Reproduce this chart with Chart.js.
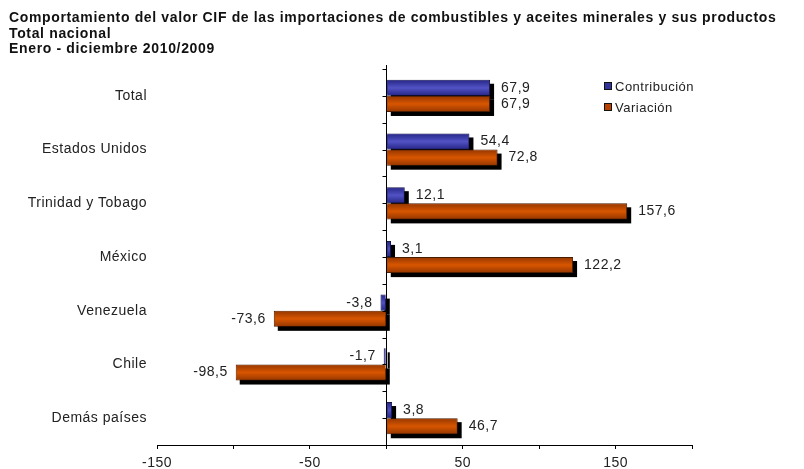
<!DOCTYPE html>
<html>
<head>
<meta charset="utf-8">
<script src="https://cdn.jsdelivr.net/npm/chart.js@4.4.1/dist/chart.umd.min.js"></script>
<style>
    body { margin: 0; background: #fff; }
    #wrap { position: relative; width: 804px; height: 469px; }
    #title {
        position: absolute; left: 9px; top: 10px;
        font: bold 14px "Liberation Sans", Arial, sans-serif;
        letter-spacing: 0.65px;
        line-height: 15.5px; color: #111; white-space: nowrap;
    }
    #legend {
        position: absolute; left: 604px; top: 79px;
        font: 13px "Liberation Sans", Arial, sans-serif; color: #222;
        letter-spacing: 0.5px;
    }
    #legend div { height: 21px; line-height: 16px; }
    #legend span.box {
        display: inline-block; width: 6px; height: 6px;
        border: 1px solid #111; margin-right: 3px; vertical-align: 1px;
    }
</style>
</head>
<body>
<div id="wrap">
    <canvas id="chart" width="804" height="469"></canvas>
    <div id="title">
        Comportamiento del valor CIF de las importaciones de combustibles y aceites minerales y sus productos<br>
        Total nacional<br>
        Enero - diciembre 2010/2009
    </div>
    <div id="legend">
        <div><span class="box" style="background:#33339c"></span>Contribución</div>
        <div><span class="box" style="background:#b84300"></span>Variación</div>
    </div>
</div>
<script>
// Data
const categories = ['Total', 'Estados Unidos', 'Trinidad y Tobago', 'México', 'Venezuela', 'Chile', 'Demás países'];
const contribucion = [67.9, 54.4, 12.1, 3.1, -3.8, -1.7, 3.8];
const variacion = [67.9, 72.8, 157.6, 122.2, -73.6, -98.5, 46.7];
const tickLabels = [-150, -50, 50, 150];

const blue = '#33339c';
const orange = '#b84300';
// edge / centre colours for the shaded bars
const shades = [['#2a2a8e', '#5252c4'], ['#9c3a00', '#d85600']];
const font = '"Liberation Sans", Arial, sans-serif';

function fmt(v) {
    return v.toFixed(1).replace('.', ',');
}

function barRect(bar) {
    const p = bar.getProps(['x', 'y', 'base', 'height'], true);
    return {
        left: Math.min(p.x, p.base),
        right: Math.max(p.x, p.base),
        top: p.y - p.height / 2,
        bottom: p.y + p.height / 2,
        x: p.x,
        y: p.y
    };
}

// Black drop shadows first, then the bars, then the shading and the value labels
const barStyle = {
    id: 'barStyle',
    beforeDraw(chart) {
        chart.ctx.letterSpacing = '0.5px';
    },
    beforeDatasetsDraw(chart) {
        const ctx = chart.ctx;
        ctx.save();
        ctx.fillStyle = '#000';
        chart.data.datasets.forEach((ds, di) => {
            chart.getDatasetMeta(di).data.forEach(bar => {
                const r = barRect(bar);
                ctx.fillRect(r.left + 4, r.top + 4, r.right - r.left, r.bottom - r.top);
            });
        });
        ctx.restore();
    },
    afterDatasetsDraw(chart) {
        const ctx = chart.ctx;
        ctx.save();
        chart.data.datasets.forEach((ds, di) => {
            chart.getDatasetMeta(di).data.forEach((bar, i) => {
                const r = barRect(bar);
                const w = r.right - r.left - 2;
                const h = r.bottom - r.top - 2;
                if (w > 0) {
                    const g = ctx.createLinearGradient(0, r.top + 1, 0, r.top + 1 + h);
                    g.addColorStop(0, shades[di][0]);
                    g.addColorStop(0.5, shades[di][1]);
                    g.addColorStop(1, shades[di][0]);
                    ctx.fillStyle = g;
                    ctx.fillRect(r.left + 1, r.top + 1, w, h);
                }
                const v = ds.data[i];
                ctx.fillStyle = '#222';
                ctx.font = '14px ' + font;
                ctx.textBaseline = 'middle';
                if (v >= 0) {
                    ctx.textAlign = 'left';
                    ctx.fillText(fmt(v), r.x + 11, r.y);
                } else {
                    ctx.textAlign = 'right';
                    ctx.fillText(fmt(v), r.x - 8, r.y);
                }
            });
        });
        // zero line and its small ticks
        const x0 = Math.round(chart.scales.x.getPixelForValue(0)) + 0.5;
        const area = chart.chartArea;
        const step = (area.bottom - area.top) / (categories.length * 2);
        ctx.strokeStyle = '#000';
        ctx.lineWidth = 1;
        ctx.beginPath();
        ctx.moveTo(x0, area.top - 4);
        ctx.lineTo(x0, area.bottom);
        for (let k = 0; k <= categories.length * 2; k++) {
            const y = Math.round(area.top + k * step) + 0.5;
            ctx.moveTo(x0 - 4, y);
            ctx.lineTo(x0, y);
        }
        ctx.stroke();
        ctx.restore();
    }
};

const ctx = document.getElementById('chart').getContext('2d');
const chart = new Chart(ctx, {
    type: 'bar',
    data: {
        labels: categories,
        datasets: [{
            label: 'Contribución',
            data: contribucion,
            backgroundColor: blue,
            borderColor: '#16164a',
            borderWidth: 1
        }, {
            label: 'Variación',
            data: variacion,
            backgroundColor: orange,
            borderColor: '#4a1c00',
            borderWidth: 1
        }]
    },
    options: {
        indexAxis: 'y',
        responsive: false,
        animation: false,
        layout: { padding: { top: 69, right: 112, left: 0, bottom: 0 } },
        datasets: {
            bar: { categoryPercentage: 0.6, barPercentage: 1 }
        },
        plugins: {
            legend: { display: false },
            tooltip: { enabled: false }
        },
        scales: {
            x: {
                min: -150,
                max: 200,
                afterFit(scale) { scale.height = 24; },
                border: { display: true, color: '#000', width: 1 },
                grid: {
                    color: 'rgba(0,0,0,0)',
                    tickColor: '#000',
                    tickLength: 4
                },
                ticks: {
                    stepSize: 50,
                    padding: 6,
                    color: '#222',
                    font: { family: font, size: 14 },
                    callback: v => (tickLabels.includes(v) ? String(v) : '')
                }
            },
            y: {
                afterFit(scale) { scale.width = 157; },
                border: { display: false },
                grid: { display: false },
                ticks: {
                    padding: 2,
                    color: '#222',
                    font: { family: font, size: 14 }
                }
            }
        }
    },
    plugins: [barStyle]
});
</script>
</body>
</html>
